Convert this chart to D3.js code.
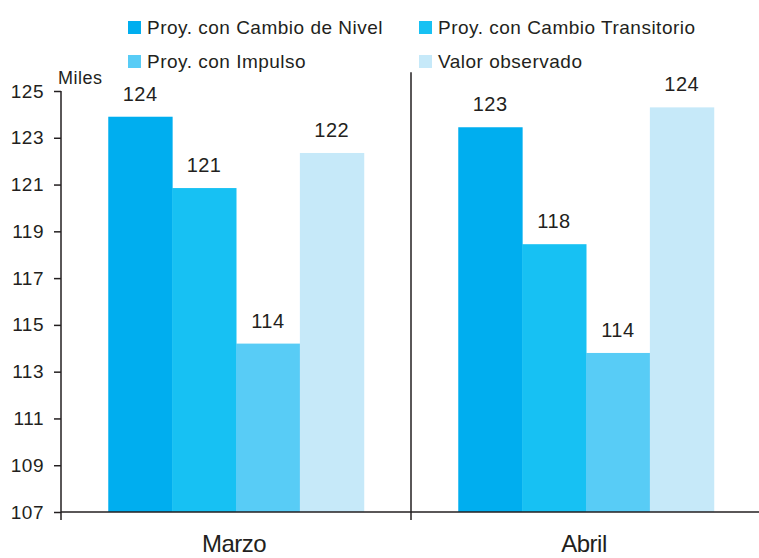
<!DOCTYPE html>
<html>
<head>
<meta charset="utf-8">
<script src="https://cdn.jsdelivr.net/npm/d3@7"></script>
<style>
body { margin: 0; background: #fff; }
text { font-family: "Liberation Sans", Arial, sans-serif; fill: #231f20; letter-spacing: 0.5px; }
</style>
</head>
<body>
<div id="plot"></div>
<script>
var months = ["Marzo", "Abril"];
var series = ["Proy. con Cambio de Nivel", "Proy. con Cambio Transitorio", "Proy. con Impulso", "Valor observado"];
var colors = ["#00aeef", "#17c1f3", "#58ccf6", "#c6e9f9"];
var valores = [
    [123.9, 120.85, 114.2, 122.35],
    [123.45, 118.45, 113.8, 124.3]
];
var yTicks = [107, 109, 111, 113, 115, 117, 119, 121, 123, 125];

var width = 759, height = 558;
var margin = {top: 91, right: 0, bottom: 46, left: 61};

var svg = d3.select("#plot")
    .append("svg")
    .attr("width", width)
    .attr("height", height);

var y = d3.scaleLinear()
    .domain([107, 125])
    .range([height - margin.bottom, margin.top]);

var x0 = d3.scaleBand()
    .domain(months)
    .range([margin.left, margin.left + 700]);

var x1 = d3.scaleBand()
    .domain(series)
    .range([0, x0.bandwidth()])
    .paddingOuter(0.74)
    .paddingInner(0);

// barras
var groups = svg.selectAll(".grupo")
    .data(months)
    .enter().append("g")
    .attr("transform", function(d) { return "translate(" + x0(d) + ",0)"; });

groups.each(function(m, i) {
    var g = d3.select(this);
    var vals = valores[i];
    g.selectAll("rect")
        .data(series)
        .enter().append("rect")
        .attr("x", function(s) { return x1(s); })
        .attr("y", function(s, j) { return y(vals[j]); })
        .attr("width", x1.bandwidth() + 0.5)
        .attr("height", function(s, j) { return y(107) - y(vals[j]); })
        .style("fill", function(s, j) { return colors[j]; });

    g.selectAll(".etiqueta")
        .data(series)
        .enter().append("text")
        .attr("x", function(s) { return x1(s) + x1.bandwidth() / 2; })
        .attr("y", function(s, j) { return y(vals[j]) - 16; })
        .style("text-anchor", "middle")
        .style("font-size", "20px")
        .text(function(s, j) { return Math.round(vals[j]); });
});

// eje y
var yAxis = svg.append("g")
    .attr("transform", "translate(" + margin.left + ",0)")
    .call(d3.axisLeft(y).tickValues(yTicks).tickSize(7).tickPadding(10));
yAxis.selectAll("text").style("font-size", "19px").style("fill", "#231f20");
yAxis.selectAll("line").style("stroke", "#231f20").style("stroke-width", 1.5);
yAxis.select(".domain").style("stroke", "#231f20").style("stroke-width", 1.5)
    .attr("d", "M0," + y(125) + "V" + y(107));

// eje x
var yBase = y(107);
svg.append("line")
    .attr("x1", margin.left).attr("x2", width)
    .attr("y1", yBase).attr("y2", yBase)
    .style("stroke", "#231f20").style("stroke-width", 1.5);

svg.selectAll(".sep")
    .data(months)
    .enter().append("line")
    .attr("x1", function(d) { return x0(d); })
    .attr("x2", function(d) { return x0(d); })
    .attr("y1", function(d, i) { return i == 0 ? yBase : y(125.8); })
    .attr("y2", yBase + 8)
    .style("stroke", "#231f20").style("stroke-width", 1.5);

svg.selectAll(".mes")
    .data(months)
    .enter().append("text")
    .attr("x", function(d) { return x0(d) + x0.bandwidth() / 2 - 2; })
    .attr("y", yBase + 40)
    .style("text-anchor", "middle")
    .style("font-size", "24px")
    .style("letter-spacing", "-0.5px")
    .style("font-family", "'Liberation Sans Narrow', 'Liberation Sans', sans-serif")
    .text(function(d) { return d; });

svg.append("text")
    .attr("x", 58).attr("y", 84)
    .style("font-size", "18px")
    .text("Miles");

// leyenda
var legend = svg.selectAll(".leyenda")
    .data(series)
    .enter().append("g")
    .attr("transform", function(d, i) {
        return "translate(" + (i % 2 == 0 ? 128 : 419) + "," + (i < 2 ? 21 : 55) + ")";
    });
legend.append("rect")
    .attr("width", 13).attr("height", 13)
    .style("fill", function(d, i) { return colors[i]; });
legend.append("text")
    .attr("x", 19).attr("y", 13)
    .style("font-size", "19px")
    .text(function(d) { return d; });
</script>
</body>
</html>
